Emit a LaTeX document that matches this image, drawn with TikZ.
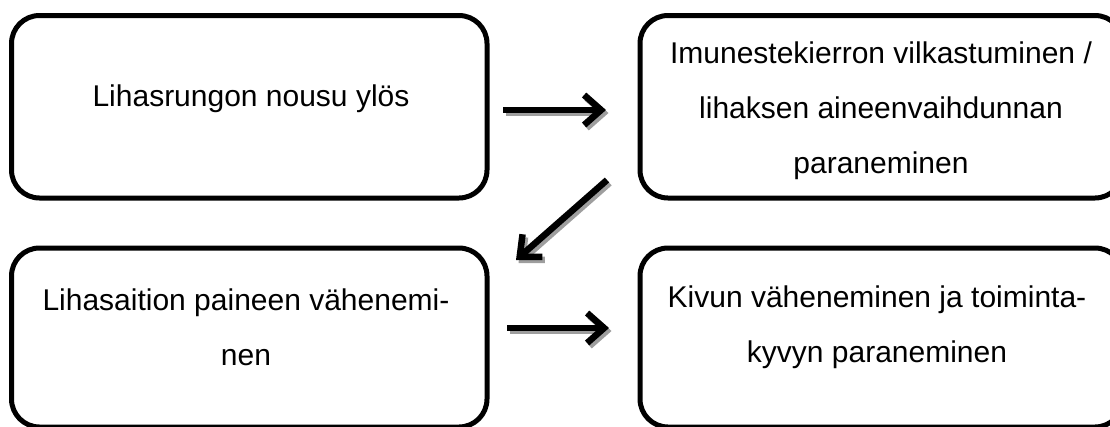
\documentclass[tikz,border=0pt]{standalone}
\usepackage{fontspec}
\setmainfont{Liberation Sans}
\usetikzlibrary{arrows.meta}
\tikzset{
  box/.style={draw=black, line width=5pt, rounded corners=28pt, minimum width=#1, inner sep=0pt, outer sep=0pt},
  label/.style={font=\fontsize{30pt}{55pt}\selectfont, align=center, inner sep=0pt},
  arr/.style={line width=6.5pt, -{Straight Barb[length=17pt,width=30pt]}},
  arrshadow/.style={arr, draw=black!38},
}
\begin{document}
\begin{tikzpicture}[x=1pt,y=-1pt]
\useasboundingbox (0,0) rectangle (1110,426);
\clip (0,0) rectangle (1110,426);
\node[box=475.5pt, minimum height=182.5pt] (b1) at (249.25,106.75) {};
\node[box=483pt, minimum height=182.5pt] (b2) at (881.5,106.75) {};
\node[box=475.5pt, minimum height=179pt] (b3) at (249.25,337.5) {};
\node[box=483pt, minimum height=179pt] (b4) at (881.5,337.5) {};
\node[label] (t1) at (251,99) {Lihasrungon nousu ylös};
\node[label] (t2) at (881,111) {Imunestekierron vilkastuminen /\\lihaksen aineenvaihdunnan\\paraneminen};
\node[label] (t3) at (246,327.5) {Lihasaition paineen vähenemi-\\nen};
\node[label] (t4) at (877,327.5) {Kivun väheneminen ja toiminta-\\kyvyn paraneminen};
\coordinate (a1s) at (503,110);
\coordinate (a1e) at (606,110);
\coordinate (a2s) at (607,180);
\coordinate (a2e) at (516,260);
\coordinate (a3s) at (507,328);
\coordinate (a3e) at (609,328);
\draw[arrshadow] ([shift={(2.5,3)}]a1s) -- ([shift={(2.5,3)}]a1e);
\draw[arrshadow] ([shift={(2.5,3)}]a2s) -- ([shift={(2.5,3)}]a2e);
\draw[arrshadow] ([shift={(2.5,3)}]a3s) -- ([shift={(2.5,3)}]a3e);
\draw[arr] (a1s) -- (a1e);
\draw[arr] (a2s) -- (a2e);
\draw[arr] (a3s) -- (a3e);
\end{tikzpicture}
\end{document}
